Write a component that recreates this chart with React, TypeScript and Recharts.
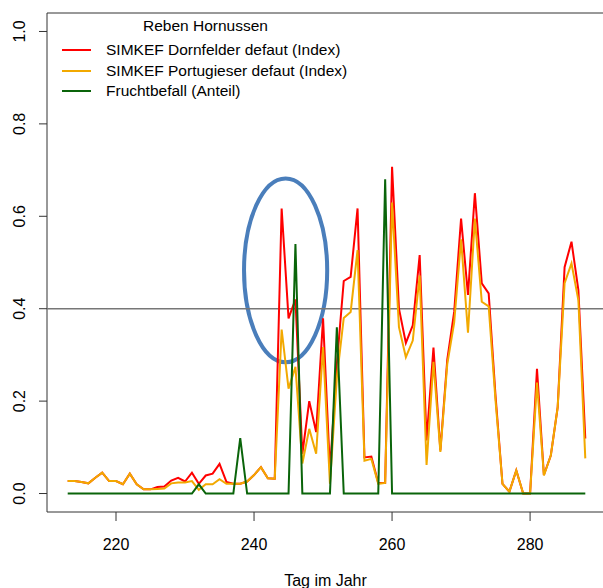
import { LineChart, Line, XAxis, YAxis, ReferenceLine, ReferenceArea } from 'recharts';

const days = [
  213, 214, 215, 216, 217, 218, 219, 220, 221, 222,
  223, 224, 225, 226, 227, 228, 229, 230, 231, 232,
  233, 234, 235, 236, 237, 238, 239, 240, 241, 242,
  243, 244, 245, 246, 247, 248, 249, 250, 251, 252,
  253, 254, 255, 256, 257, 258, 259, 260, 261, 262,
  263, 264, 265, 266, 267, 268, 269, 270, 271, 272,
  273, 274, 275, 276, 277, 278, 279, 280, 281, 282,
  283, 284, 285, 286, 287, 288,
];

const dornfelder = [
  0.027, 0.027, 0.025, 0.022, 0.034, 0.045, 0.027, 0.027, 0.02, 0.043,
  0.02, 0.009, 0.009, 0.014, 0.015, 0.028, 0.034, 0.026, 0.045, 0.021,
  0.039, 0.043, 0.064, 0.025, 0.021, 0.021, 0.026, 0.04, 0.057, 0.033,
  0.032, 0.617, 0.379, 0.42, 0.086, 0.2, 0.133, 0.379, 0.05, 0.28,
  0.46, 0.469, 0.617, 0.078, 0.08, 0.023, 0.023, 0.707, 0.4, 0.326,
  0.364, 0.516, 0.115, 0.316, 0.093, 0.29, 0.393, 0.595, 0.43, 0.65,
  0.455, 0.433, 0.21, 0.021, 0.004, 0.05, 0, 0, 0.27, 0.04,
  0.082, 0.187, 0.49, 0.545, 0.44, 0.119,
];

const portugieser = [
  0.027, 0.027, 0.025, 0.022, 0.034, 0.045, 0.027, 0.027, 0.02, 0.043,
  0.02, 0.009, 0.009, 0.01, 0.011, 0.022, 0.024, 0.024, 0.027, 0.008,
  0.02, 0.02, 0.031, 0.021, 0.021, 0.021, 0.026, 0.04, 0.057, 0.033,
  0.032, 0.355, 0.227, 0.274, 0.065, 0.14, 0.086, 0.317, 0.021, 0.25,
  0.38, 0.393, 0.527, 0.071, 0.075, 0.021, 0.023, 0.63, 0.36, 0.295,
  0.331, 0.472, 0.062, 0.285, 0.09, 0.28, 0.37, 0.55, 0.348, 0.595,
  0.415, 0.405, 0.2, 0.021, 0.004, 0.05, 0, 0, 0.24, 0.039,
  0.082, 0.187, 0.455, 0.498, 0.418, 0.076,
];

const fruchtbefall = [
  0, 0, 0, 0, 0, 0, 0, 0, 0, 0,
  0, 0, 0, 0, 0, 0, 0, 0, 0, 0.02,
  0, 0, 0, 0, 0, 0.12, 0, 0, 0, 0,
  0, 0, 0, 0.54, 0, 0, 0, 0, 0, 0.36,
  0, 0, 0, 0, 0, 0, 0.68, 0, 0, 0,
  0, 0, 0, 0, 0, 0, 0, 0, 0, 0,
  0, 0, 0, 0, 0, 0, 0, 0, 0, 0,
  0, 0, 0, 0, 0, 0,
];

const xTicks = [220, 240, 260, 280];
const yTicks = [0, 0.2, 0.4, 0.6, 0.8, 1.0];

const legendTitle = 'Reben Hornussen';
const legendItems = [
  { name: 'SIMKEF Dornfelder defaut (Index)', color: '#FF0000' },
  { name: 'SIMKEF Portugieser defaut (Index)', color: '#F2A900' },
  { name: 'Fruchtbefall (Anteil)', color: '#0A640A' },
];

const data = days.map((day, i) => ({
  day,
  dornfelder: dornfelder[i],
  portugieser: portugieser[i],
  frucht: fruchtbefall[i],
}));

const FONT = '"Liberation Sans", Arial, sans-serif';

const XTick = ({ x, y, payload }: any) => (
  <text x={x} y={y + 27} textAnchor="middle" fontSize={16} fill="#000" fontFamily={FONT}>
    {payload.value}
  </text>
);

const YTick = ({ y, payload }: any) => (
  <text
    x={25}
    y={y}
    transform={`rotate(-90, 25, ${y})`}
    textAnchor="middle"
    fontSize={16}
    fill="#000"
    fontFamily={FONT}
  >
    {Number(payload.value).toFixed(1)}
  </text>
);

const Ellipse = ({ x, y, width, height }: any) => (
  <ellipse
    cx={x + width / 2}
    cy={y + height / 2}
    rx={width / 2}
    ry={height / 2}
    fill="none"
    stroke="#4A7EBB"
    strokeWidth={4}
  />
);

// legend drawn as html on top of the chart (R legend with bty="n")
const LegendBox = () => (
  <div style={{ position: 'absolute', left: 0, top: 0, width: 400, height: 100, fontFamily: FONT, color: '#000' }}>
    <div style={{ position: 'absolute', left: 143, top: 16, fontSize: 15.5, lineHeight: '20px' }}>{legendTitle}</div>
    {legendItems.map((item, i) => (
      <div key={item.name}>
        <div
          style={{
            position: 'absolute',
            left: 62,
            top: 49 + i * 20.7,
            width: 29,
            height: 2,
            background: item.color,
          }}
        />
        <div style={{ position: 'absolute', left: 106, top: 40 + i * 20.7, fontSize: 15.5, lineHeight: '20px', whiteSpace: 'nowrap' }}>
          {item.name}
        </div>
      </div>
    ))}
  </div>
);

export default function App() {
  return (
    <div style={{ position: 'absolute', left: 0, top: 0, width: 603, height: 588, overflow: 'hidden', background: '#fff' }}>
      <LineChart width={610} height={588} data={data} margin={{ top: 13, right: 4, left: 0, bottom: 0 }}>
        <XAxis
          dataKey="day"
          type="number"
          domain={[210, 291]}
          ticks={xTicks}
          tick={<XTick />}
          tickSize={9}
          tickLine={{ stroke: '#333' }}
          axisLine={false}
          height={76}
          allowDataOverflow
          label={{
            content: ({ viewBox }: any) => (
              <text x={viewBox.x + viewBox.width / 2 - 1} y={586} textAnchor="middle" fontSize={16} fill="#000" fontFamily={FONT}>
                Tag im Jahr
              </text>
            ),
          }}
        />
        <YAxis
          type="number"
          domain={[-0.04, 1.04]}
          ticks={yTicks}
          tick={<YTick />}
          tickSize={8}
          tickLine={{ stroke: '#333' }}
          axisLine={false}
          width={47}
          allowDataOverflow
        />
        <ReferenceArea x1={210} x2={291} y1={-0.04} y2={1.04} fill="none" stroke="#333" strokeWidth={1} ifOverflow="visible" />
        <ReferenceLine y={0.4} stroke="#777" strokeWidth={1.5} />
        <Line dataKey="dornfelder" stroke="#FF0000" strokeWidth={2} dot={false} isAnimationActive={false} />
        <Line dataKey="portugieser" stroke="#F2A900" strokeWidth={2} dot={false} isAnimationActive={false} />
        <Line dataKey="frucht" stroke="#0A640A" strokeWidth={2} dot={false} isAnimationActive={false} />
        <ReferenceArea x1={238.55} x2={250.6} y1={0.284} y2={0.682} shape={<Ellipse />} ifOverflow="visible" />
      </LineChart>
      <LegendBox />
    </div>
  );
}
